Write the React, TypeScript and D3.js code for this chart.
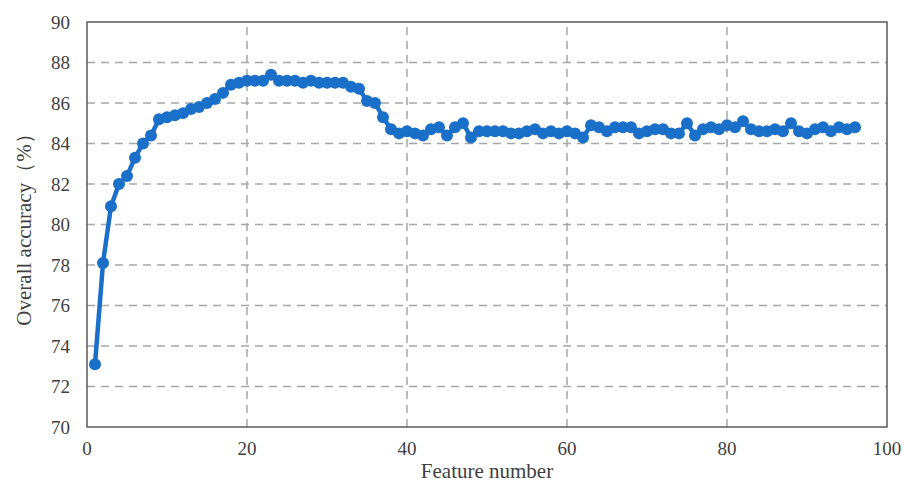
import React from "react";
import * as d3 from "d3";

// accuracy (%) for feature counts 1..96
const accuracy = [
  73.1, 78.1, 80.9, 82.0, 82.4, 83.3, 84.0, 84.4, 85.2, 85.3,
  85.4, 85.5, 85.7, 85.8, 86.0, 86.2, 86.5, 86.9, 87.0, 87.1,
  87.1, 87.1, 87.4, 87.1, 87.1, 87.1, 87.0, 87.1, 87.0, 87.0,
  87.0, 87.0, 86.8, 86.7, 86.1, 86.0, 85.3, 84.7, 84.5, 84.6,
  84.5, 84.4, 84.7, 84.8, 84.4, 84.8, 85.0, 84.3, 84.6, 84.6,
  84.6, 84.6, 84.5, 84.5, 84.6, 84.7, 84.5, 84.6, 84.5, 84.6,
  84.5, 84.3, 84.9, 84.8, 84.6, 84.8, 84.8, 84.8, 84.5, 84.6,
  84.7, 84.7, 84.5, 84.5, 85.0, 84.4, 84.7, 84.8, 84.7, 84.9,
  84.8, 85.1, 84.7, 84.6, 84.6, 84.7, 84.6, 85.0, 84.6, 84.5,
  84.7, 84.8, 84.6, 84.8, 84.7, 84.8,
];
const features = accuracy.map((_, i) => i + 1);
const xTicks = [0, 20, 40, 60, 80, 100];
const yTicks = [70, 72, 74, 76, 78, 80, 82, 84, 86, 88, 90];

const W = 906;
const H = 486;
const m = { left: 87, right: 19, top: 22, bottom: 59 };
const blue = "#1a6fc9";
const font = "'Liberation Serif', 'Times New Roman', serif";

export default function App() {
  const x = d3.scaleLinear().domain([0, 100]).range([m.left, W - m.right]);
  const y = d3.scaleLinear().domain([70, 90]).range([H - m.bottom, m.top]);

  const pts: [number, number][] = features.map((f, i) => [f, accuracy[i]]);
  const path = d3
    .line<[number, number]>()
    .x((d) => x(d[0]))
    .y((d) => y(d[1]))(pts);

  return (
    <svg
      width={W}
      height={H}
      style={{ position: "absolute", left: 0, top: 0, background: "#fff" }}
    >
      {/* grid */}
      {yTicks.slice(1, -1).map((t) => (
        <line
          key={"gy" + t}
          x1={x(0)}
          x2={x(100)}
          y1={y(t)}
          y2={y(t)}
          stroke="#a6a6a6"
          strokeWidth={1.5}
          strokeDasharray="8,6"
        />
      ))}
      {xTicks.slice(1, -1).map((t) => (
        <line
          key={"gx" + t}
          x1={x(t)}
          x2={x(t)}
          y1={y(70)}
          y2={y(90)}
          stroke="#a6a6a6"
          strokeWidth={1.5}
          strokeDasharray="8,6"
        />
      ))}
      {/* frame */}
      <rect
        x={x(0)}
        y={y(90)}
        width={x(100) - x(0)}
        height={y(70) - y(90)}
        fill="none"
        stroke="#595959"
        strokeWidth={1.5}
      />
      {/* tick labels */}
      {yTicks.map((t) => (
        <text
          key={"ty" + t}
          x={x(0) - 17}
          y={y(t)}
          dy="0.35em"
          textAnchor="end"
          fontFamily={font}
          fontSize={19}
          fill="#404040"
        >
          {t}
        </text>
      ))}
      {xTicks.map((t) => (
        <text
          key={"tx" + t}
          x={x(t)}
          y={y(70) + 28}
          textAnchor="middle"
          fontFamily={font}
          fontSize={19}
          fill="#404040"
        >
          {t}
        </text>
      ))}
      <text
        x={(x(0) + x(100)) / 2}
        y={H - 8}
        textAnchor="middle"
        fontFamily={font}
        fontSize={21}
        fill="#404040"
      >
        Feature number
      </text>
      <text
        transform={`translate(31,${(y(70) + y(90)) / 2}) rotate(-90)`}
        textAnchor="middle"
        fontFamily={font}
        fontSize={21}
        fill="#404040"
      >
        Overall accuracy（%）
      </text>
      {/* series */}
      <path d={path ?? ""} fill="none" stroke={blue} strokeWidth={4.5} strokeLinejoin="round" />
      {pts.map((d) => (
        <circle key={d[0]} cx={x(d[0])} cy={y(d[1])} r={6} fill={blue} />
      ))}
    </svg>
  );
}
